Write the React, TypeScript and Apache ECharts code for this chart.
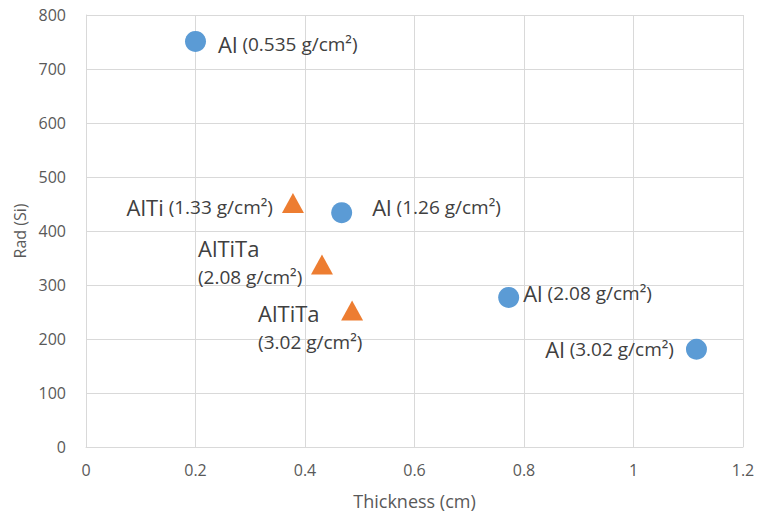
import React, { useEffect, useRef } from "react";
import * as echarts from "echarts";

// Al series
const alThickness = [0.2, 0.467, 0.772, 1.115];
const alRad = [751, 434, 277, 181];
const alDensity = ["0.535", "1.26", "2.08", "3.02"];

// AlTi / AlTiTa series
const mixThickness = [0.378, 0.431, 0.486];
const mixRad = [452, 338, 253];
const mixName = ["AlTi", "AlTiTa", "AlTiTa"];
const mixDensity = ["1.33", "2.08", "3.02"];

const xTicks = { min: 0, max: 1.2, interval: 0.2 };
const yTicks = { min: 0, max: 800, interval: 100 };

const FONT = "Open Sans";
const rich = {
  b: { fontSize: 22, fontFamily: FONT, color: "#404040", lineHeight: 29 },
  s: { fontSize: 19, fontFamily: FONT, color: "#404040", lineHeight: 29 },
};

// label placement (style, relative to symbol box)
const alLabelPos: [number, number, string][] = [
  [33, 13, "left"],
  [41, 5, "left"],
  [25, 6, "left"],
  [-12, 10, "right"],
];
const mixLabelPos: [number, number, string, string, boolean][] = [
  [-9, 14, "right", "middle", false],
  [-113, -21, "left", "top", true],
  [-83, -2, "left", "top", true],
];

export default function App() {
  const ref = useRef<HTMLDivElement>(null);
  useEffect(() => {
    if (!ref.current) return;
    const chart = echarts.init(ref.current, undefined, { renderer: "svg" });
    const alData = alThickness.map((x, i) => ({
      value: [x, alRad[i]],
      label: {
        show: true,
        position: [alLabelPos[i][0], alLabelPos[i][1]],
        align: alLabelPos[i][2],
        verticalAlign: "middle",
        formatter: `{b|Al} {s|(${alDensity[i]} g/cm²)}`,
      },
    }));
    const mixData = mixThickness.map((x, i) => {
      const p = mixLabelPos[i];
      return {
        value: [x, mixRad[i]],
        label: {
          show: true,
          position: [p[0], p[1]],
          align: p[2],
          verticalAlign: p[3],
          formatter: p[4]
            ? `{b|${mixName[i]}}\n{s|(${mixDensity[i]} g/cm²)}`
            : `{b|${mixName[i]}} {s|(${mixDensity[i]} g/cm²)}`,
        },
      };
    });
    const axisLabel = { color: "#595959", fontSize: 16, fontFamily: FONT };
    chart.setOption({
      animation: false,
      backgroundColor: "#ffffff",
      grid: { left: 86, right: 22, top: 15, bottom: 69, outerBoundsMode: "none", containLabel: false },
      xAxis: {
        type: "value",
        ...xTicks,
        name: "Thickness (cm)",
        nameLocation: "middle",
        nameGap: 45,
        nameTextStyle: { color: "#595959", fontSize: 18, fontFamily: FONT },
        axisLine: { show: true, lineStyle: { color: "#d9d9d9" } },
        axisTick: { show: false },
        axisLabel: { ...axisLabel, margin: 15 },
        splitLine: { show: true, lineStyle: { color: "#d9d9d9" } },
      },
      yAxis: {
        type: "value",
        ...yTicks,
        name: "Rad (Si)",
        nameLocation: "middle",
        nameGap: 55,
        nameTextStyle: { color: "#595959", fontSize: 16, fontFamily: FONT },
        axisLine: { show: true, lineStyle: { color: "#d9d9d9" } },
        axisTick: { show: false },
        axisLabel: { ...axisLabel, margin: 20 },
        splitLine: { show: true, lineStyle: { color: "#d9d9d9" } },
      },
      series: [
        {
          type: "scatter",
          name: "Al",
          symbol: "circle",
          symbolSize: 21,
          itemStyle: { color: "#5b9bd5", opacity: 1 },
          label: { rich, fontSize: 19, fontFamily: FONT, color: "#404040" },
          data: alData,
        },
        {
          type: "scatter",
          name: "AlTi",
          symbol: "triangle",
          symbolSize: [22, 20],
          itemStyle: { color: "#ed7d31", opacity: 1 },
          label: { rich, fontSize: 19, fontFamily: FONT, color: "#404040" },
          data: mixData,
        },
      ],
    });
    return () => chart.dispose();
  }, []);
  return <div ref={ref} style={{ width: 765, height: 516, position: "absolute", left: 0, top: 0 }} />;
}
